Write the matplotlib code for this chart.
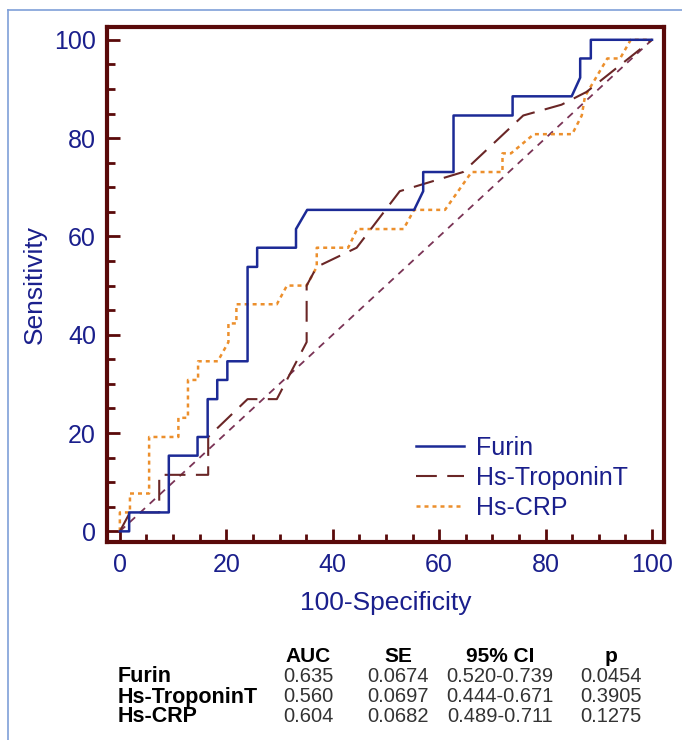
import matplotlib
matplotlib.use('Agg')
import matplotlib.pyplot as plt
from matplotlib import font_manager
from matplotlib.lines import Line2D
from matplotlib.ticker import MultipleLocator

plt.rcParams['font.family'] = ['Liberation Sans', 'DejaVu Sans']

# ROC curves: (100-Specificity, Sensitivity)
furin_x = [0, 1.75, 1.75, 9.2, 9.2, 14.6, 14.6, 16.5, 16.5, 18.3, 18.3, 20.2, 20.2, 24.0, 24.0,
           25.8, 25.8, 33.1, 33.1, 35.2, 55.3, 57.0, 57.0, 62.7, 62.7, 73.8, 73.8, 84.9, 86.5,
           86.5, 88.5, 88.5, 100]
furin_y = [0, 0, 3.85, 3.85, 15.4, 15.4, 19.2, 19.2, 26.9, 26.9, 30.8, 30.8, 34.6, 34.6, 53.8,
           53.8, 57.7, 57.7, 61.5, 65.4, 65.4, 69.2, 73.1, 73.1, 84.6, 84.6, 88.5, 88.5, 92.3,
           96.2, 96.2, 100, 100]

trop_x = [0, 1.9, 7.4, 7.4, 16.6, 16.6, 24.0, 29.5, 35.1, 35.1, 37.0, 44.5, 52.6, 64.5, 75.8,
          83.0, 87.7, 100]
trop_y = [0, 3.85, 3.85, 11.5, 11.5, 19.2, 26.9, 26.9, 38.5, 50.0, 53.8, 57.7, 69.2, 73.1, 84.6,
          86.8, 89.4, 100]

crp_x = [0, 0, 1.9, 1.9, 5.5, 5.5, 11.0, 11.0, 12.8, 12.8, 14.7, 14.7, 18.4, 20.4, 20.4, 21.9,
         21.9, 29.5, 31.4, 35.1, 37.0, 37.0, 42.9, 44.6, 53.3, 55.3, 61.1, 66.1, 71.9, 71.9,
         73.5, 77.8, 85.0, 86.8, 87.4, 91.6, 94.0, 96.0, 100]
crp_y = [0, 3.85, 3.85, 7.7, 7.7, 19.2, 19.2, 23.1, 23.1, 30.8, 30.8, 34.6, 34.6, 38.5, 42.3, 42.3,
         46.2, 46.2, 50.0, 50.0, 53.8, 57.7, 57.7, 61.5, 61.5, 65.4, 65.4, 73.1, 73.1, 76.9,
         76.9, 80.8, 80.8, 84.6, 88.5, 96.2, 96.2, 100, 100]

names = ['Furin', 'Hs-TroponinT', 'Hs-CRP']
auc = ['0.635', '0.560', '0.604']
se = ['0.0674', '0.0697', '0.0682']
ci = ['0.520-0.739', '0.444-0.671', '0.489-0.711']
pval = ['0.0454', '0.3905', '0.1275']

navy = '#1a1f8c'
maroon = '#5a0a0a'

# narrow face for the numbers if one is installed
installed = {f.name for f in font_manager.fontManager.ttflist}
if 'Liberation Sans Narrow' in installed:
    num_font, num_size = 'Liberation Sans Narrow', 16
else:
    num_font, num_size = 'Liberation Sans', 14.5

fig = plt.figure(figsize=(6.82, 7.40), dpi=100)
ax = fig.add_axes([0.157, 0.268, 0.817, 0.6955])

ax.plot([0, 100], [0, 100], color='#7a3355', lw=1.3, dashes=(4, 3.5))
ax.plot(crp_x, crp_y, color='#ec8f2c', lw=1.8, dashes=(1.6, 1.6), label='Hs-CRP')
ax.plot(trop_x, trop_y, color='#6a2626', lw=1.5, dashes=(10, 5), label='Hs-TroponinT')
ax.plot(furin_x, furin_y, color='#1c2a96', lw=1.8, label='Furin')

ax.set_xlim(-2.4, 102.3)
ax.set_ylim(-2.1, 102.6)
ax.xaxis.set_major_locator(MultipleLocator(20))
ax.xaxis.set_minor_locator(MultipleLocator(5))
ax.yaxis.set_major_locator(MultipleLocator(20))
ax.yaxis.set_minor_locator(MultipleLocator(5))
ax.tick_params(which='both', direction='in', color=maroon, width=2, labelcolor=navy,
               labelsize=18, top=False, right=False)
ax.tick_params(which='major', length=9.5, pad=8)
ax.tick_params(which='minor', length=5.5)
for s in ax.spines.values():
    s.set_color(maroon)
    s.set_linewidth(3)

ax.set_xlabel('100-Specificity', color=navy, fontsize=19, labelpad=10)
ax.set_ylabel('Sensitivity', color=navy, fontsize=19, labelpad=5)

h, l = ax.get_legend_handles_labels()
order = [2, 1, 0]
ax.legend([h[i] for i in order], [l[i] for i in order], loc='lower left',
          bbox_to_anchor=(0.555, 0.042), frameon=False, fontsize=18, labelcolor=navy,
          handlelength=1.9, handletextpad=0.5, labelspacing=0.25, borderpad=0, borderaxespad=0)

# statistics table under the plot
cols = [308, 398, 500, 611]
for x, t in zip(cols, ['AUC', 'SE', '95% CI', 'p']):
    fig.text(x / 682, 1 - 656 / 740, t, ha='center', va='center', fontsize=15,
             fontweight='bold', color='black')
rows_y = [677, 697, 716]
for i, name in enumerate(names):
    y = 1 - rows_y[i] / 740
    fig.text(118 / 682, y, name, ha='left', va='center', fontsize=15.5, fontweight='bold',
             color='black')
    for x, t in zip(cols, [auc[i], se[i], ci[i], pval[i]]):
        fig.text(x / 682, y, t, ha='center', va='center', fontsize=num_size, color='#333333',
                 family=[num_font, 'DejaVu Sans'])

# thin light-blue frame at top and left of the picture
fig.add_artist(Line2D([8 / 682, 8 / 682], [0, 1 - 10 / 740], color='#7f9fd8', lw=1.2))
fig.add_artist(Line2D([8 / 682, 1], [1 - 10 / 740, 1 - 10 / 740], color='#7f9fd8', lw=1.2))

fig.savefig('out.png', dpi=100, facecolor='white')
